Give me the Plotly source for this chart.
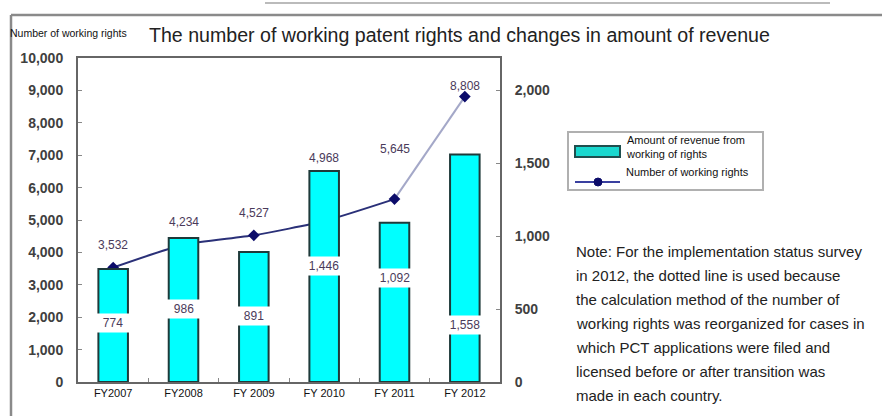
import plotly.graph_objects as go

categories = ["FY2007", "FY2008", "FY 2009", "FY 2010", "FY 2011", "FY 2012"]
revenue = [774, 986, 891, 1446, 1092, 1558]
working_rights = [3532, 4234, 4527, 4968, 5645, 8808]
left_ticks = [0, 1000, 2000, 3000, 4000, 5000, 6000, 7000, 8000, 9000, 10000]
right_ticks = [0, 500, 1000, 1500, 2000]

title_text = "The number of working patent rights and changes in amount of revenue"
y_title_text = "Number of working rights"
legend_bar_text = "Amount of revenue from<br>working of rights"
legend_line_text = "Number of working rights"
note_lines = [
    "Note: For the implementation status survey",
    "in 2012, the dotted line is used because",
    "the calculation method of the number of",
    "working rights was reorganized for cases in",
    "which PCT applications were filed and",
    "licensed before or after transition was",
    "made in each country.",
]

# style / placement (pixel offsets for labels)
bar_label_shift = [-54, -71, -64, -95, -55, -170]
line_label_shift = [23, 23, 22, 63, 50, 11]

W, H = 882, 416
L, R, T, B = 78, 500, 58, 382
Y2MAX = 2220


def px(x):
    return (x - L) / (R - L)


def py(y):
    return (B - y) / (B - T)


fig = go.Figure()

fig.add_trace(go.Bar(
    x=categories, y=revenue, yaxis="y2", width=0.42,
    marker=dict(color="#00FFFF", line=dict(color="#1e3a3a", width=2)),
    showlegend=False, hoverinfo="x+y",
))

fig.add_trace(go.Scatter(
    x=categories[:5], y=working_rights[:5], mode="lines",
    line=dict(color="#2a3078", width=2, shape="spline", smoothing=0.6),
    showlegend=False, hoverinfo="skip",
))
fig.add_trace(go.Scatter(
    x=categories[4:], y=working_rights[4:], mode="lines",
    line=dict(color="#a4a8c8", width=2),
    showlegend=False, hoverinfo="skip",
))
fig.add_trace(go.Scatter(
    x=categories, y=working_rights, mode="markers",
    marker=dict(color="#0c0c6a", size=9, symbol="diamond"),
    showlegend=False, hoverinfo="x+y",
))

label_font = dict(family="Liberation Sans", size=12, color="#4a3a5a")

annotations = []
for c, v, s in zip(categories, revenue, bar_label_shift):
    annotations.append(dict(
        x=c, y=v, xref="x", yref="y2", yshift=s, text=f"{v:,}",
        showarrow=False, bgcolor="white", width=36, height=18, borderpad=0,
        font=label_font,
    ))
for c, v, s in zip(categories, working_rights, line_label_shift):
    annotations.append(dict(
        x=c, y=v, xref="x", yref="y", yshift=s, text=f"{v:,}",
        showarrow=False, font=label_font,
    ))

annotations.append(dict(
    x=px(147), y=py(35), xref="paper", yref="paper", xanchor="left", yanchor="middle",
    text=title_text, showarrow=False,
    font=dict(family="Liberation Sans", size=19.6, color="#222"),
))
annotations.append(dict(
    x=px(8), y=py(33), xref="paper", yref="paper", xanchor="left", yanchor="middle",
    text=y_title_text, showarrow=False,
    font=dict(family="Liberation Sans Narrow, Liberation Sans", size=10.5, color="#111"),
))
annotations.append(dict(
    x=px(624), y=py(147), xref="paper", yref="paper", xanchor="left", yanchor="middle",
    text=legend_bar_text, showarrow=False, align="left",
    font=dict(family="Liberation Sans Narrow, Liberation Sans", size=11, color="#111"),
))
annotations.append(dict(
    x=px(624), y=py(172), xref="paper", yref="paper", xanchor="left", yanchor="middle",
    text=legend_line_text, showarrow=False, align="left",
    font=dict(family="Liberation Sans Narrow, Liberation Sans", size=11, color="#111"),
))
for i, line in enumerate(note_lines):
    annotations.append(dict(
        x=px(574), y=py(251 + 24 * i), xref="paper", yref="paper",
        xanchor="left", yanchor="middle", text=line, showarrow=False,
        font=dict(family="Liberation Sans", size=15, color="#222"),
    ))

shapes = [
    # outer frame
    dict(type="line", xref="paper", yref="paper", x0=px(11), x1=px(11), y0=py(15), y1=py(420),
         line=dict(color="#8a8a8a", width=2.5)),
    dict(type="line", xref="paper", yref="paper", x0=px(11), x1=px(890), y0=py(15), y1=py(15),
         line=dict(color="#8a8a8a", width=2.5)),
    dict(type="line", xref="paper", yref="paper", x0=px(265), x1=px(830), y0=py(3), y1=py(3),
         line=dict(color="#bbbbbb", width=2)),
    # legend box
    dict(type="rect", xref="paper", yref="paper", x0=px(568), x1=px(763), y0=py(132), y1=py(190),
         line=dict(color="#b0b0b0", width=2), fillcolor="white", layer="below"),
    dict(type="rect", xref="paper", yref="paper", x0=px(575), x1=px(620), y0=py(146), y1=py(157),
         line=dict(color="#1f4f4f", width=2), fillcolor="#1ad8cf"),
    dict(type="line", xref="paper", yref="paper", x0=px(575), x1=px(620), y0=py(182), y1=py(182),
         line=dict(color="#3a40a0", width=2)),
    dict(type="circle", xref="paper", yref="paper", x0=px(594), x1=px(602), y0=py(178), y1=py(186),
         line=dict(color="#0c0c6a", width=1), fillcolor="#0c0c6a"),
]

tick_font = dict(family="Liberation Sans", size=14, color="#404040", weight="bold")

fig.update_layout(
    width=W, height=H,
    margin=dict(l=L, r=W - R, t=T, b=H - B),
    paper_bgcolor="white", plot_bgcolor="white",
    bargap=0.5,
    xaxis=dict(
        type="category", showline=True, linecolor="#666", linewidth=2, mirror=True,
        ticks="inside", tickson="boundaries", ticklen=4, tickcolor="#888",
        showgrid=False, tickfont=dict(family="Liberation Sans", size=11, color="#111"),
    ),
    yaxis=dict(
        range=[0, 10000], tickvals=left_ticks, ticktext=[f"{t:,}" for t in left_ticks],
        showline=True, linecolor="#666", linewidth=2, ticks="inside", ticklen=4, tickcolor="#888",
        showgrid=False, zeroline=False, tickfont=tick_font, ticklabelstandoff=10,
    ),
    yaxis2=dict(
        range=[0, Y2MAX], overlaying="y", side="right", tickvals=right_ticks,
        ticktext=[f"{t:,}" for t in right_ticks],
        showline=True, linecolor="#666", linewidth=2, ticks="inside", ticklen=4, tickcolor="#888",
        showgrid=False, zeroline=False, tickfont=tick_font, ticklabelstandoff=10,
    ),
    annotations=annotations,
    shapes=shapes,
)

fig.write_html(
    "out.html",
    config={"displayModeBar": False},
    post_script="document.body.style.margin='0';document.body.style.overflow='hidden';",
)
